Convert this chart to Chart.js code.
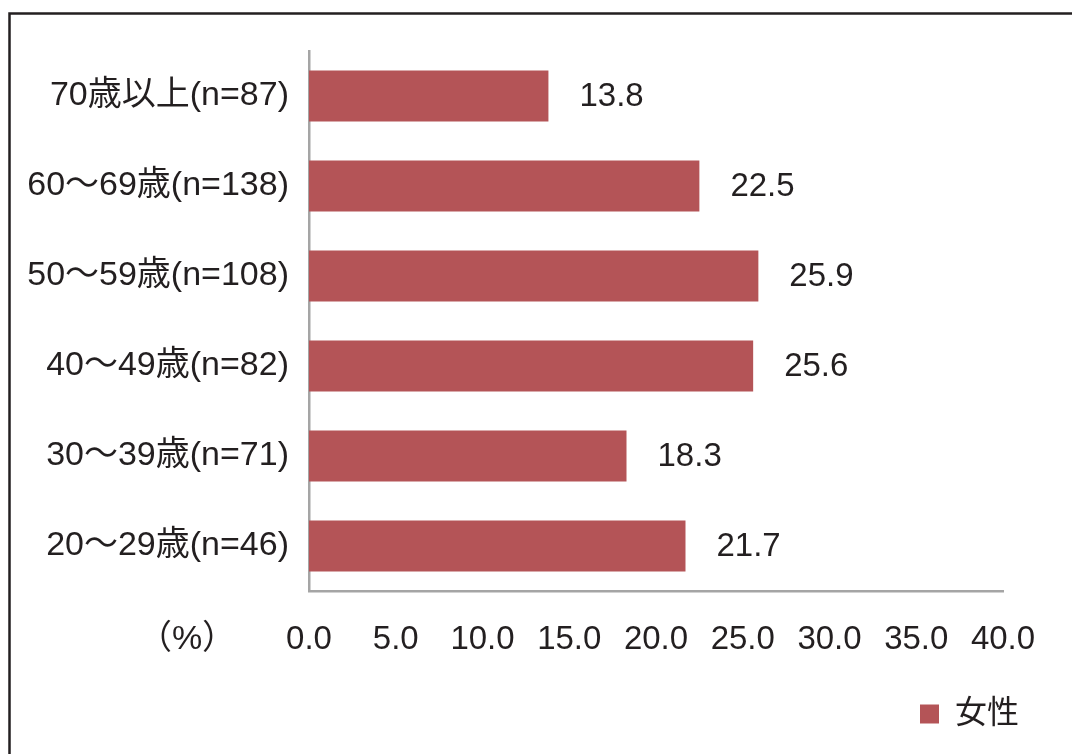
<!DOCTYPE html>
<html>
<head>
<meta charset="utf-8">
<script src="https://cdn.jsdelivr.net/npm/chart.js@4/dist/chart.umd.min.js"></script>
<style>
  html, body { margin: 0; padding: 0; background: #ffffff; }
  #wrap { width: 1072px; height: 754px; }
</style>
</head>
<body>
<div id="wrap"><canvas id="c" width="1072" height="754"></canvas></div>
<script>
const categories = ['70歳以上(n=87)', '60～69歳(n=138)', '50～59歳(n=108)', '40～49歳(n=82)', '30～39歳(n=71)', '20～29歳(n=46)'];
const seriesName = '女性';
const femaleValues = [13.8, 22.5, 25.9, 25.6, 18.3, 21.7];
const xTicks = [0, 5, 10, 15, 20, 25, 30, 35, 40];
const unitLabel = '（%）';

const FONT_FAMILY = "'Liberation Sans', 'Noto Sans CJK JP', sans-serif";
const TEXT_COLOR = '#231f20';
const BAR_COLOR = '#b45457';
const AXIS_COLOR = '#a5a5a5';

const framePlugin = {
  id: 'frame',
  beforeDraw(chart) {
    const ctx = chart.ctx;
    ctx.save();
    ctx.fillStyle = '#ffffff';
    ctx.fillRect(0, 0, chart.width, chart.height);
    ctx.strokeStyle = '#231f20';
    ctx.lineWidth = 2.5;
    ctx.strokeRect(9.5, 13.5, chart.width + 100, chart.height + 100);
    ctx.restore();
  }
};

const valueLabelPlugin = {
  id: 'valueLabels',
  afterDatasetsDraw(chart) {
    const ctx = chart.ctx;
    const meta = chart.getDatasetMeta(0);
    ctx.save();
    ctx.font = '33px ' + FONT_FAMILY;
    ctx.fillStyle = TEXT_COLOR;
    ctx.textAlign = 'left';
    ctx.textBaseline = 'middle';
    meta.data.forEach((bar, i) => {
      const v = chart.data.datasets[0].data[i];
      ctx.fillText(v.toFixed(1), bar.x + 31, bar.y + 1);
    });
    // unit label to the left of the x tick labels
    const xs = chart.scales.x;
    ctx.textAlign = 'center';
    ctx.font = '34px ' + FONT_FAMILY;
    ctx.fillText(unitLabel, 187, xs.top + 49);
    ctx.restore();
  }
};

new Chart(document.getElementById('c'), {
  type: 'bar',
  data: {
    labels: categories,
    datasets: [{
      label: seriesName,
      data: femaleValues,
      backgroundColor: BAR_COLOR,
      borderWidth: 0,
      barPercentage: 0.567,
      categoryPercentage: 1.0
    }]
  },
  options: {
    indexAxis: 'y',
    responsive: false,
    animation: false,
    devicePixelRatio: 1,
    layout: { padding: { left: 0, right: 43, top: 51, bottom: 14 } },
    plugins: {
      legend: {
        display: true,
        position: 'bottom',
        align: 'end',
        labels: {
          boxWidth: 19,
          boxHeight: 19,
          padding: 10,
          color: TEXT_COLOR,
          font: { family: FONT_FAMILY, size: 32 }
        }
      },
      tooltip: { enabled: false }
    },
    scales: {
      x: {
        min: 0,
        max: 40,
        afterBuildTicks(scale) {
          scale.ticks = xTicks.map(v => ({ value: v }));
        },
        afterFit(scale) {
          scale.height = 97;
          scale.paddingRight = 69;
        },
        grid: { display: false, drawTicks: false },
        border: { display: true, color: AXIS_COLOR, width: 2.5 },
        ticks: {
          padding: 29,
          maxRotation: 0,
          autoSkip: false,
          color: TEXT_COLOR,
          font: { family: FONT_FAMILY, size: 33 },
          callback: (v) => Number(v).toFixed(1)
        }
      },
      y: {
        afterFit(scale) {
          scale.width = 309;
        },
        grid: { display: false, drawTicks: false },
        border: { display: true, color: AXIS_COLOR, width: 2.5 },
        ticks: {
          padding: 20,
          color: TEXT_COLOR,
          font: { family: FONT_FAMILY, size: 34 }
        }
      }
    }
  },
  plugins: [framePlugin, valueLabelPlugin]
});
</script>
</body>
</html>
